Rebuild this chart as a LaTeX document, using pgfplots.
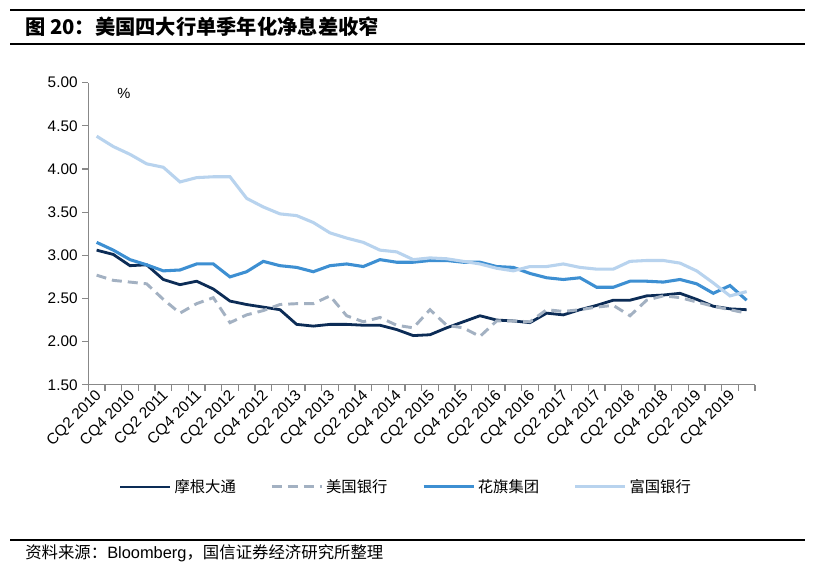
\documentclass[border=0pt]{standalone}
\usepackage{fontspec}
\setmainfont{Liberation Sans}
\newfontfamily\cjk{Noto Sans CJK SC}
\usepackage{pgfplots}
\usepackage{pgfplotstable}
\pgfplotsset{compat=1.18}

\definecolor{jpm}{HTML}{0C2C56}
\definecolor{bac}{HTML}{A3B1C2}
\definecolor{citi}{HTML}{3D8FD2}
\definecolor{wfc}{HTML}{B8D3EE}
\definecolor{axisgray}{HTML}{888888}

% quarterly net interest margin, CQ2 2010 .. CQ1 2020
\pgfplotstableread{
i  jpm  bac  citi wfc
0  3.06 2.77 3.15 4.38
1  3.01 2.71 3.06 4.26
2  2.88 2.69 2.95 4.17
3  2.89 2.67 2.89 4.06
4  2.72 2.49 2.82 4.02
5  2.66 2.33 2.83 3.85
6  2.70 2.44 2.90 3.90
7  2.61 2.51 2.90 3.91
8  2.47 2.22 2.75 3.91
9  2.43 2.31 2.81 3.66
10 2.40 2.36 2.93 3.56
11 2.37 2.43 2.88 3.48
12 2.20 2.44 2.86 3.46
13 2.18 2.44 2.81 3.38
14 2.20 2.53 2.88 3.26
15 2.20 2.30 2.90 3.20
16 2.19 2.23 2.87 3.15
17 2.19 2.28 2.95 3.06
18 2.14 2.19 2.92 3.04
19 2.07 2.16 2.92 2.95
20 2.08 2.37 2.94 2.97
21 2.16 2.19 2.94 2.96
22 2.23 2.16 2.92 2.93
23 2.30 2.06 2.92 2.90
24 2.25 2.24 2.87 2.85
25 2.24 2.24 2.86 2.82
26 2.22 2.23 2.79 2.87
27 2.33 2.37 2.74 2.87
28 2.31 2.35 2.72 2.90
29 2.37 2.37 2.74 2.86
30 2.42 2.40 2.63 2.84
31 2.48 2.42 2.63 2.84
32 2.48 2.30 2.70 2.93
33 2.53 2.48 2.70 2.94
34 2.54 2.53 2.69 2.94
35 2.56 2.51 2.72 2.91
36 2.49 2.46 2.67 2.82
37 2.41 2.41 2.56 2.68
38 2.38 2.37 2.65 2.53
39 2.37 2.33 2.48 2.58
}\nimdata

\newcommand{\px}{0.75pt}

\begin{document}
\begin{tikzpicture}
\useasboundingbox[fill=white] (0,0) rectangle (814*\px,569*\px);

% title block
\draw[black, line width=1pt] (10*\px,559*\px) -- (805*\px,559*\px);
\node[anchor=west, inner sep=0pt] at (25*\px,542*\px)
  {\fontsize{15.2}{17}\selectfont\cjk\bfseries 图 20：美国四大行单季年化净息差收窄};
\draw[black, line width=1pt] (10*\px,525*\px) -- (805*\px,525*\px);

\begin{axis}[
    at={(88.3*\px,184.2*\px)}, anchor=south west,
    scale only axis,
    width=500pt, height=226.6pt,
    xmin=-0.5, xmax=39.5,
    ymin=1.5, ymax=5,
    axis x line*=bottom, axis y line*=left,
    axis line style={axisgray, line width=0.9pt},
    every tick/.style={axisgray, line width=0.8pt},
    tick align=outside,
    major tick length=4.5pt,
    minor tick length=4.5pt,
    ytick={1.5,2,...,5},
    yticklabel style={/pgf/number format/.cd, fixed, fixed zerofill, precision=2,
      assume math mode=true},
    xtick={0,2,...,38},
    xticklabels={CQ2 2010,CQ4 2010,CQ2 2011,CQ4 2011,CQ2 2012,CQ4 2012,
      CQ2 2013,CQ4 2013,CQ2 2014,CQ4 2014,CQ2 2015,CQ4 2015,CQ2 2016,CQ4 2016,
      CQ2 2017,CQ4 2017,CQ2 2018,CQ4 2018,CQ2 2019,CQ4 2019},
    major x tick style={draw=none},
    minor xtick={-0.5,0.5,...,39.5},
    xticklabel style={rotate=45, anchor=east, inner sep=1pt, yshift=-3pt, xshift=1pt},
    ticklabel style={font=\fontsize{11.5}{13}\selectfont, black},
    legend style={at={(0.477,-0.338)}, anchor=center, draw=none,
      font=\fontsize{11.5}{13}\selectfont\cjk, legend columns=4,
      /tikz/every even column/.append style={column sep=24pt}},
    legend image code/.code={\draw[#1] (0pt,0pt) -- (37.5pt,0pt);},
    clip=false,
]
\addplot[jpm, line width=2.1pt] table[x=i, y=jpm] {\nimdata};
\addplot[bac, line width=2.2pt, dash pattern=on 7.5pt off 4.5pt] table[x=i, y=bac] {\nimdata};
\addplot[citi, line width=2.3pt] table[x=i, y=citi] {\nimdata};
\addplot[wfc, line width=2.3pt] table[x=i, y=wfc] {\nimdata};
\legend{摩根大通, 美国银行, 花旗集团, 富国银行}
\end{axis}

\node[font=\fontsize{11}{12}\selectfont] at (124*\px,476*\px) {\%};

% source block
\draw[black, line width=1pt] (10*\px,29*\px) -- (805*\px,29*\px);
\node[anchor=west, inner sep=0pt, font=\fontsize{12.3}{14}\selectfont] at (25*\px,16*\px)
  {{\cjk 资料来源：}Bloomberg{\cjk ，国信证券经济研究所整理}};
\end{tikzpicture}
\end{document}
